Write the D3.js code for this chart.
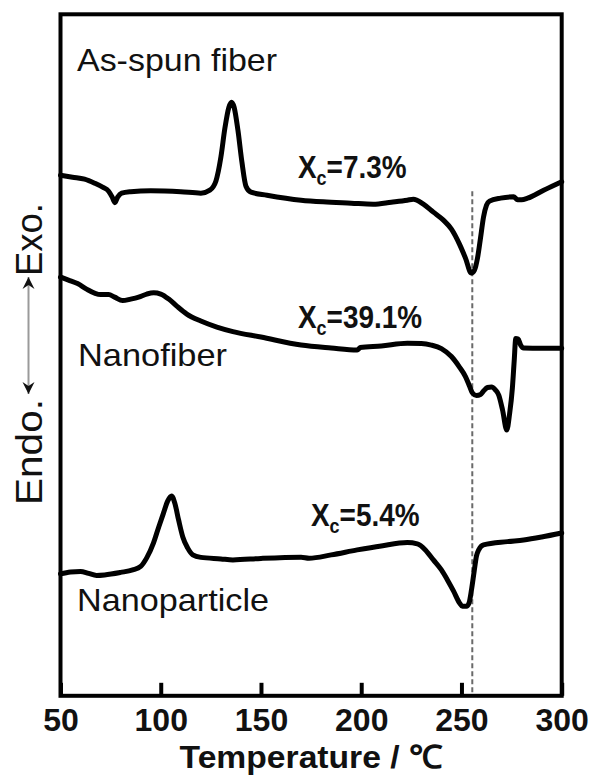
<!DOCTYPE html>
<html>
<head>
<meta charset="utf-8">
<script src="https://cdn.jsdelivr.net/npm/d3@7"></script>
<style>
  html, body { margin: 0; padding: 0; background: #fff; }
  svg { display: block; }
  text { font-family: "Liberation Sans", Arial, sans-serif; fill: #111; }
</style>
</head>
<body>
<svg id="chart" width="590" height="776"></svg>
<script>
// ---------------- DATA ----------------
const xTicks = [50, 100, 150, 200, 250, 300];
const xDomain = [50, 300];
const yDomain = [0, 68.2];            // heat flow, arbitrary units

const seriesNames = ["As-spun fiber", "Nanofiber", "Nanoparticle"];
const crystallinity = ["7.3%", "39.1%", "5.4%"];

// [temperature (°C), heat flow (a.u.)]
const asSpun = [
  [50,52.1],[56,51.9],[62,51.7],[67,51.3],[71,50.9],[74,50.5],[75.8,49.9],[77.1,49.35],
  [78.5,49.9],[80.5,50.3],[85,50.45],[95,50.55],[110,50.45],[120,50.3],[124.5,50.6],
  [127.5,51.5],[130,53.9],[132,56.8],[134,58.9],[135.3,59.4],[136.6,58.9],[138.5,56.6],
  [140.5,53.4],[142.5,51.0],[145,50.4],[153,50.1],[170,49.6],[181,49.43],[195,49.3],
  [206,49.2],[215,49.4],[223,49.6],[226,49.7],[231,49.2],[236,48.4],[241,47.6],[245,46.7],
  [249,45.2],[252,43.8],[254.9,42.3],[256.5,42.6],[258,43.8],[259.5,45.8],[261,47.9],
  [262.5,49.1],[264,49.5],[269.5,49.8],[276,49.93],[278,49.65],[280,49.65],[283,49.8],
  [291,50.6],[300,51.45]
];
const nanofiber = [
  [50,41.9],[54,41.6],[58.5,41.25],[63,40.7],[67,40.3],[70,40.15],[74,40.15],[77,39.9],
  [81,39.55],[85,39.7],[89,39.9],[93,40.2],[96.5,40.33],[100,40.2],[104,39.7],[108,39.0],
  [113,38.2],[120,37.5],[128,36.9],[136,36.45],[150,35.9],[170,35.1],[185,34.8],[198,34.6],
  [199.5,34.85],[210,35.0],[223,35.27],[230,35.25],[235,35.1],[240,34.75],[245,33.95],
  [249,32.9],[252,31.95],[254,31.0],[255.5,30.3],[257.5,30.05],[259.5,30.15],[261,30.5],
  [263,30.85],[265,30.9],[267,30.6],[268.6,30.1],[270.5,28.6],[272.6,26.6],[274,28.2],
  [275.4,30.8],[276.3,33.5],[277.1,35.75],[278.3,35.7],[279.5,35.1],[281,34.8],[290,34.77],
  [300,34.77]
];
const nanoparticle = [
  [50,12.2],[55,12.4],[60,12.45],[64,12.25],[68,12.05],[72,12.1],[80,12.35],[86,12.6],
  [90,12.95],[93,13.8],[96.4,15.3],[99,16.9],[101.4,18.3],[103.5,19.5],[105.4,20.0],
  [107,19.3],[108.9,17.6],[111,15.9],[113.4,14.8],[116,14.1],[120,13.85],[130,13.7],
  [136,13.6],[150,13.75],[170,13.87],[174,13.77],[185,14.1],[198,14.6],[210,15.0],
  [223,15.33],[228,15.2],[232,14.6],[236,13.6],[240,12.6],[243,11.6],[246,10.5],[249,9.3],
  [250.5,8.95],[252.5,8.95],[253.8,9.3],[255,10.6],[256.3,12.4],[257.5,14.0],[258.6,14.6],
  [261,15.1],[273,15.43],[281,15.6],[290,15.9],[300,16.3]
];
const meltRefT = 255.4;         // dashed reference line temperature
const meltRefTop = 50.5;        // dashed line upper end (a.u.)

// ---------------- LAYOUT ----------------
const svg = d3.select("#chart");
const L = 60.5, R = 561.7, T = 14.3, B = 695.8;
const x = d3.scaleLinear().domain(xDomain).range([L, R]);
const y = d3.scaleLinear().domain(yDomain).range([B, T]);

// dashed reference line
svg.append("line")
  .attr("x1", x(meltRefT)).attr("x2", x(meltRefT))
  .attr("y1", y(meltRefTop)).attr("y2", y(0))
  .attr("stroke", "#6a6a6a").attr("stroke-width", 2)
  .attr("stroke-dasharray", "5,3");

// curves
const line = d3.line().x(d => x(d[0])).y(d => y(d[1])).curve(d3.curveMonotoneX);
[asSpun, nanofiber, nanoparticle].forEach(s => {
  svg.append("path").datum(s)
    .attr("d", line)
    .attr("fill", "none")
    .attr("stroke", "#000")
    .attr("stroke-width", 5)
    .attr("stroke-linejoin", "round")
    .attr("stroke-linecap", "round");
});

// frame
svg.append("rect")
  .attr("x", L).attr("y", T).attr("width", R - L).attr("height", B - T)
  .attr("fill", "none").attr("stroke", "#000").attr("stroke-width", 4);

// x axis
const xAxis = d3.axisBottom(x).tickValues(xTicks).tickFormat(d3.format("d"))
  .tickSizeInner(-13).tickSizeOuter(0).tickPadding(12);
const gx = svg.append("g").attr("transform", `translate(0,${B})`).call(xAxis);
gx.select(".domain").remove();
gx.selectAll(".tick line").attr("stroke", "#000").attr("stroke-width", 4);
gx.selectAll(".tick text")
  .attr("font-family", "Liberation Sans, Arial, sans-serif")
  .attr("font-size", 32).attr("font-weight", "bold").attr("fill", "#111");

// x label
svg.append("text")
  .attr("x", (L + R) / 2).attr("y", 768)
  .attr("text-anchor", "middle")
  .attr("font-size", 32).attr("font-weight", "bold")
  .attr("textLength", 263).attr("lengthAdjust", "spacingAndGlyphs")
  .text("Temperature / ℃");

// y label: Endo. <--> Exo.
svg.append("text")
  .attr("transform", "translate(42,505) rotate(-90)")
  .attr("font-size", 36)
  .attr("textLength", 106).attr("lengthAdjust", "spacingAndGlyphs")
  .text("Endo.");
svg.append("text")
  .attr("transform", "translate(42,276) rotate(-90)")
  .attr("font-size", 36)
  .attr("textLength", 73).attr("lengthAdjust", "spacingAndGlyphs")
  .text("Exo.");
const defs = svg.append("defs");
defs.append("marker").attr("id", "ah")
  .attr("viewBox", "-14 -7 16 14").attr("refX", 0).attr("refY", 0)
  .attr("markerWidth", 16).attr("markerHeight", 14)
  .attr("markerUnits", "userSpaceOnUse").attr("orient", "auto-start-reverse")
  .append("path").attr("d", "M0,0 L-12,-6 L-8,0 L-12,6 Z").attr("fill", "#111");
svg.append("line")
  .attr("x1", 28.5).attr("x2", 28.5).attr("y1", 394).attr("y2", 277)
  .attr("stroke", "#9a9a9a").attr("stroke-width", 2)
  .attr("marker-start", "url(#ah)").attr("marker-end", "url(#ah)");

// series labels
const nameLabels = [
  { name: seriesNames[0], x: 77, y: 71, w: 200 },
  { name: seriesNames[1], x: 78, y: 366, w: 149 },
  { name: seriesNames[2], x: 77, y: 611, w: 192 }
];
nameLabels.forEach(d => {
  svg.append("text").attr("x", d.x).attr("y", d.y)
    .attr("font-size", 32)
    .attr("textLength", d.w).attr("lengthAdjust", "spacingAndGlyphs")
    .text(d.name);
});

// crystallinity labels (slightly condensed bold)
const xcLabels = [
  { v: crystallinity[0], x: 298, y: 178 },
  { v: crystallinity[1], x: 298, y: 328 },
  { v: crystallinity[2], x: 311, y: 526 }
];
xcLabels.forEach(d => {
  const t = svg.append("text")
    .attr("transform", `translate(${d.x},${d.y}) scale(0.9,1)`)
    .attr("font-size", 31).attr("font-weight", "bold");
  t.append("tspan").text("X");
  t.append("tspan").attr("font-size", 20).attr("dy", 7).text("c");
  t.append("tspan").attr("dy", -7).text("=" + d.v);
});
</script>
</body>
</html>
